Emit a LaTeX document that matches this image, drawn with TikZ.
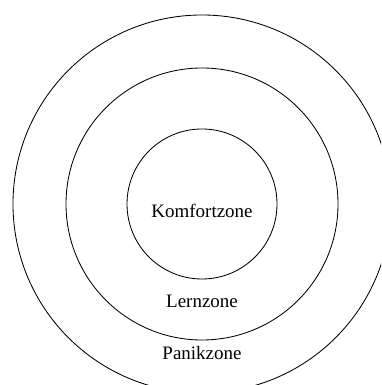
\documentclass[tikz,border=0pt]{standalone}
\usepackage{fontspec}
\setmainfont{Liberation Serif}
\tikzset{zone/.style={draw, line width=0.6pt},
  zonetext/.style={anchor=base, inner sep=0pt, font=\fontsize{13.5}{16}\selectfont}}
\begin{document}
\begin{tikzpicture}
      \useasboundingbox (0,0) rectangle (9.525,9.625);
      \clip (0,0) rectangle (9.525,9.625);
      \coordinate (C) at (5.05,4.525);
      \draw[zone] (C) circle (4.725); \draw[zone] (C) circle (3.4);
      \draw[zone] (C) circle (1.875);
      \node[zonetext] (K) at (5.05,4.175) {Komfortzone};
      \node[zonetext] (L) at (5.05,1.925) {Lernzone};
      \node[zonetext] (P) at (5.05,0.625) {Panikzone};
    \end{tikzpicture}
\end{document}
